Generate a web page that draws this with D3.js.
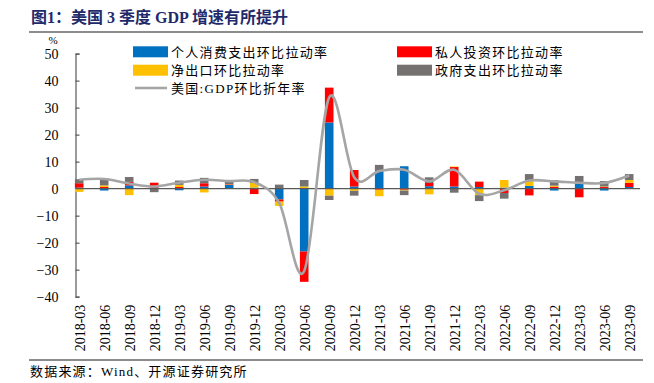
<!DOCTYPE html>
<html><head><meta charset="utf-8">
<script src="https://cdn.jsdelivr.net/npm/d3@7"></script>
<style>
html,body{margin:0;padding:0;background:#fff;}
svg{display:block;}
</style>
</head><body>
<svg id="c" width="654" height="383"></svg>
<script>
const categories = ["2018-03","2018-06","2018-09","2018-12","2019-03","2019-06","2019-09","2019-12",
 "2020-03","2020-06","2020-09","2020-12","2021-03","2021-06","2021-09","2021-12",
 "2022-03","2022-06","2022-09","2022-12","2023-03","2023-06","2023-09"];
const pce   = [0.4,-0.7,1.2,0.4,-0.6,0.8,1.4,0.4,-4.0,-23.3,24.5,0.8,6.4,8.3,0.9,0.8,0.6,0.4,1.0,-0.7,2.0,-0.7,0.6];
const inv   = [1.6,0.6,1.3,1.8,0.6,1.2,0.2,-2.0,-0.8,-11.2,12.9,6.1,-0.4,-0.4,1.2,7.2,2.0,-1.6,-2.5,0.7,-3.2,0.6,1.6];
const netx  = [-1.2,0.6,-2.4,0.0,0.8,-1.4,0.1,1.7,-1.6,0.8,-2.6,-0.8,-2.4,-0.3,-2.1,0.2,-2.4,2.8,2.0,0.4,0.4,0.2,1.0];
const gov   = [1.5,2.6,1.8,-1.3,1.6,2.0,1.5,1.5,1.5,2.4,-1.6,-1.8,2.4,-1.7,2.1,-1.5,-2.2,-2.1,2.4,2.1,2.3,2.0,2.2];
const gdp   = [3.3,3.6,1.9,0.8,2.2,3.3,2.8,2.4,-5.3,-30.5,33.8,4.2,6.5,7.0,2.7,7.0,-1.9,-0.6,3.0,2.7,2.2,2.1,4.9];
const yTicks = [-40,-30,-20,-10,0,10,20,30,40,50];
const seriesNames = ["个人消费支出环比拉动率","私人投资环比拉动率","净出口环比拉动率","政府支出环比拉动率"];
const lineName = "美国:GDP环比折年率";
const title = "图1：美国 3 季度 GDP 增速有所提升";
const source = "数据来源：Wind、开源证券研究所";

const colors = ["#0070C0","#FF0000","#FFC000","#767171"];
const keys = ["pce","inv","netx","gov"];
const rows = categories.map((c,i)=>({cat:c,pce:pce[i],inv:inv[i],netx:netx[i],gov:gov[i]}));

const svg = d3.select("#c");
const serif = "'Times New Roman','Liberation Serif','Noto Sans CJK SC',serif";
const cjk = "'Liberation Serif','Noto Sans CJK SC',serif";

// title
svg.append("text").attr("x",31).attr("y",23).attr("font-family",cjk).attr("font-weight","bold")
  .attr("font-size",16).attr("fill","#1F2A6B").text(title);
svg.append("line").attr("x1",29).attr("x2",643).attr("y1",32).attr("y2",32)
  .attr("stroke","#8C8C8C").attr("stroke-width",2);

const y = d3.scaleLinear().domain([-40,50]).range([296.7,53.6]);
const x = d3.scalePoint().domain(categories).range([79.2,629.2]);
const bw = 8.6;
const left = 75.5, right = 640;

// y axis
const yAxis = d3.axisLeft(y).tickValues(yTicks).tickSize(-4).tickPadding(17).tickFormat(d3.format("d"));
const ga = svg.append("g").attr("transform",`translate(${left},0)`).call(yAxis);
ga.select(".domain").attr("stroke","#595959").attr("stroke-width",1.2);
ga.selectAll(".tick line").attr("stroke","#595959").attr("stroke-width",1.2);
ga.selectAll(".tick text").attr("font-family",serif).attr("font-size",14).attr("fill","#000");
svg.append("text").attr("x",53).attr("y",44).attr("text-anchor","middle").attr("font-family",serif)
  .attr("font-size",11).attr("fill","#000").text("%");

// stacked bars
const stack = d3.stack().keys(keys).offset(d3.stackOffsetDiverging)(rows);
stack.forEach((s,si)=>{
  svg.append("g").attr("fill",colors[si]).selectAll("rect").data(s).join("rect")
    .attr("x",d=>x(d.data.cat)-bw/2).attr("width",bw)
    .attr("y",d=>y(Math.max(d[0],d[1])))
    .attr("height",d=>Math.abs(y(d[0])-y(d[1])));
});

// zero line
svg.append("line").attr("x1",left).attr("x2",right).attr("y1",y(0)).attr("y2",y(0))
  .attr("stroke","#595959").attr("stroke-width",1.2);

// gdp line
const line = d3.line().x((d,i)=>x(categories[i])).y(d=>y(d)).curve(d3.curveCardinal.tension(0));
svg.append("path").datum(gdp).attr("d",line).attr("fill","none").attr("stroke","#A5A5A5").attr("stroke-width",2.6);

// x labels
const xa = svg.append("g").attr("transform",`translate(0,${y(-40)})`)
  .call(d3.axisBottom(x).tickSize(0).tickPadding(0));
xa.select(".domain").remove();
xa.selectAll(".tick text").attr("font-family",serif).attr("font-size",14).attr("fill","#000")
  .attr("text-anchor","end").attr("dy",null).attr("y",0)
  .attr("transform","translate(5,8) rotate(-90)");

// legend
const leg = [
  {t:seriesNames[0],c:colors[0],x:133,y:46.3},
  {t:seriesNames[1],c:colors[1],x:397,y:46.3},
  {t:seriesNames[2],c:colors[2],x:133,y:64.7},
  {t:seriesNames[3],c:colors[3],x:397,y:64.7}
];
leg.forEach(l=>{
  svg.append("rect").attr("x",l.x).attr("y",l.y).attr("width",35).attr("height",11).attr("fill",l.c);
  svg.append("text").attr("x",l.x+38).attr("y",l.y+10.5).attr("font-family",cjk).attr("font-size",13)
    .attr("letter-spacing",1.3).attr("fill","#000").text(l.t);
});
svg.append("line").attr("x1",135).attr("x2",167).attr("y1",88).attr("y2",88)
  .attr("stroke","#A5A5A5").attr("stroke-width",2.6);
svg.append("text").attr("x",171).attr("y",93).attr("font-family",cjk).attr("font-size",13)
  .attr("letter-spacing",1.3).attr("fill","#000").text(lineName);

// bottom
svg.append("line").attr("x1",29).attr("x2",643).attr("y1",360).attr("y2",360)
  .attr("stroke","#8C8C8C").attr("stroke-width",2);
svg.append("text").attr("x",30).attr("y",376).attr("font-family",cjk).attr("font-size",13)
  .attr("letter-spacing",1.2).attr("fill","#000").text(source);
</script>
</body></html>
